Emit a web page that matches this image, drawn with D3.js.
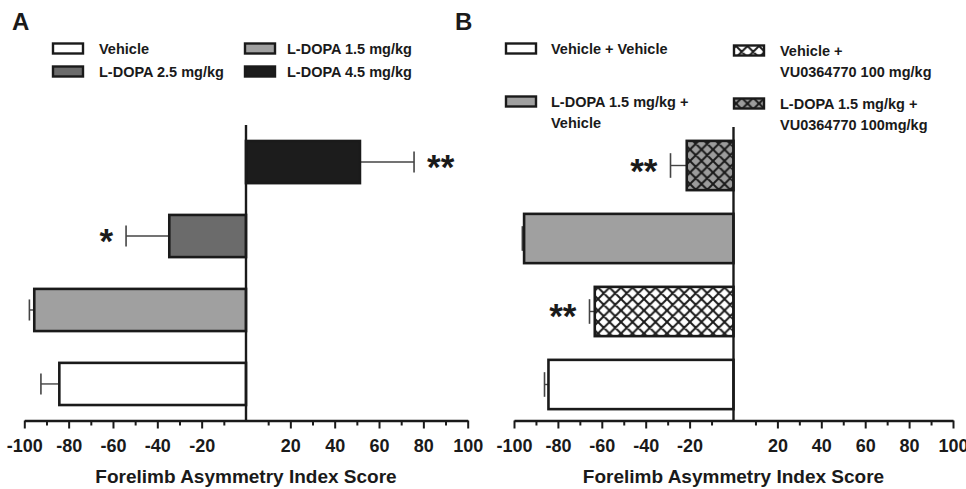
<!DOCTYPE html>
<html>
<head>
<meta charset="utf-8">
<script src="https://cdn.jsdelivr.net/npm/d3@7"></script>
<style>
  body { margin: 0; background: #fff; }
  text { font-family: "Liberation Sans", Arial, sans-serif; fill: #1a1a1a; }
</style>
</head>
<body>
<div id="chart"></div>
<script>
var svgWidth = 966;
var svgHeight = 489;

// panel A, bars listed bottom to top
var catsA = ["Vehicle", "L-DOPA 1.5 mg/kg", "L-DOPA 2.5 mg/kg", "L-DOPA 4.5 mg/kg"];
var valuesA = [-84.2, -95.5, -34.6, 51.4];
var errorsA = [8.3, 2.2, 19.5, 24.4];
var starsA = ["", "", "*", "**"];

// panel B, bars listed bottom to top
var catsB = ["Vehicle + Vehicle", "Vehicle + VU0364770 100 mg/kg", "L-DOPA 1.5 mg/kg + Vehicle", "L-DOPA 1.5 mg/kg + VU0364770 100mg/kg"];
var legendLinesB = [["Vehicle + Vehicle"], ["Vehicle +", "VU0364770 100 mg/kg"], ["L-DOPA 1.5 mg/kg +", "Vehicle"], ["L-DOPA 1.5 mg/kg +", "VU0364770 100mg/kg"]];
var valuesB = [-84.3, -63.2, -95.4, -21.3];
var errorsB = [1.8, 2.4, 0.8, 7.4];
var starsB = ["", "**", "", "**"];

var majorTicks = [-100, -80, -60, -40, -20, 20, 40, 60, 80, 100];
var minorTicks = [-90, -70, -50, -30, -10, 10, 30, 50, 70, 90];
var xTitle = "Forelimb Asymmetry Index Score";

var ink = "#1a1a1a";

var svg = d3.select("#chart")
  .append("svg")
  .attr("width", svgWidth)
  .attr("height", svgHeight);

var defs = svg.append("defs");

function crossPattern(id, bg) {
  var p = defs.append("pattern")
    .attr("id", id)
    .attr("patternUnits", "userSpaceOnUse")
    .attr("width", 11.5)
    .attr("height", 11.5);
  p.append("rect").attr("width", 11.5).attr("height", 11.5).attr("fill", bg);
  p.append("path")
    .attr("d", "M-1,-1 L12.5,12.5 M12.5,-1 L-1,12.5 M-6.75,4.75 L4.75,16.25 M6.75,-4.75 L18.25,6.75 M4.75,-6.75 L-6.75,4.75 M18.25,4.75 L6.75,16.25")
    .attr("stroke", ink)
    .attr("stroke-width", 2);
}
crossPattern("crossWhite", "#ffffff");
crossPattern("crossGray", "#9c9c9c");

var fillsA = ["#ffffff", "#a0a0a0", "#6b6b6b", "#1c1c1c"];
var fillsB = ["#ffffff", "url(#crossWhite)", "#a0a0a0", "url(#crossGray)"];

function drawPanel(opt) {
  var g = svg.append("g");

  var x = d3.scaleLinear().domain([-100, 100]).range(opt.xRange);
  var y = d3.scaleBand()
    .domain(opt.cats)
    .range([opt.yRange[1], opt.yRange[0]])
    .paddingInner(opt.padIn)
    .paddingOuter(opt.padOut);

  var data = opt.cats.map(function(c, i) {
    return {cat: c, v: opt.values[i], e: opt.errors[i], star: opt.stars[i], fill: opt.fills[i]};
  });

  // error bars (one-sided, outward)
  data.forEach(function(d) {
    var s = d.v < 0 ? -1 : 1;
    var cy = y(d.cat) + y.bandwidth() / 2;
    var xe = x(d.v + s * d.e);
    g.append("line")
      .attr("x1", x(d.v)).attr("x2", xe)
      .attr("y1", cy).attr("y2", cy)
      .attr("stroke", "#444").attr("stroke-width", 1.4);
    g.append("line")
      .attr("x1", xe).attr("x2", xe)
      .attr("y1", cy - y.bandwidth() * 0.25).attr("y2", cy + y.bandwidth() * 0.25)
      .attr("stroke", "#444").attr("stroke-width", 1.6);
    if (d.star) {
      g.append("text")
        .attr("x", xe + s * 13)
        .attr("y", cy + 17)
        .attr("text-anchor", s < 0 ? "end" : "start")
        .attr("font-size", "35px")
        .attr("font-weight", "bold")
        .text(d.star);
    }
  });

  g.selectAll("rect.bar").data(data).enter()
    .append("rect")
    .attr("class", "bar")
    .attr("x", d => Math.min(x(0), x(d.v)))
    .attr("y", d => y(d.cat))
    .attr("width", d => Math.abs(x(d.v) - x(0)))
    .attr("height", y.bandwidth())
    .attr("fill", d => d.fill)
    .attr("stroke", ink)
    .attr("stroke-width", 2.6);

  // x axis: major + minor ticks
  var axisY = opt.axisY;
  var major = g.append("g")
    .attr("transform", `translate(0, ${axisY})`)
    .call(d3.axisBottom(x).tickValues(majorTicks).tickSize(8).tickSizeOuter(0).tickPadding(11).tickFormat(d => String(d)));
  major.select(".domain").attr("stroke", ink).attr("stroke-width", 2.4);
  major.selectAll(".tick line").attr("stroke", ink).attr("stroke-width", 2);
  major.selectAll(".tick text")
    .attr("font-family", "Liberation Sans, Arial, sans-serif")
    .attr("font-size", "18px")
    .attr("font-weight", "bold")
    .attr("fill", ink);

  var minor = g.append("g")
    .attr("transform", `translate(0, ${axisY})`)
    .call(d3.axisBottom(x).tickValues(minorTicks).tickSize(5).tickSizeOuter(0).tickFormat(""));
  minor.select(".domain").remove();
  minor.selectAll(".tick line").attr("stroke", ink).attr("stroke-width", 2);

  // vertical zero line
  g.append("line")
    .attr("x1", x(0)).attr("x2", x(0))
    .attr("y1", opt.yTop).attr("y2", axisY)
    .attr("stroke", ink).attr("stroke-width", 2.4);

  g.append("text")
    .attr("x", x(0))
    .attr("y", 483)
    .attr("text-anchor", "middle")
    .attr("font-size", "19px")
    .attr("font-weight", "bold")
    .text(xTitle);

  g.append("text")
    .attr("x", opt.letterX)
    .attr("y", 30)
    .attr("font-size", "24px")
    .attr("font-weight", "bold")
    .text(opt.letter);

  // legend, row-major in two columns
  opt.legend.forEach(function(lines, i) {
    var col = i % 2, row = Math.floor(i / 2);
    var ty = opt.legRows[row] + (opt.colShift ? opt.colShift[col] : 0);
    g.append("rect")
      .attr("x", opt.legSwX[col])
      .attr("y", ty - 5.5)
      .attr("width", 30)
      .attr("height", 10)
      .attr("fill", opt.fills[i])
      .attr("stroke", ink)
      .attr("stroke-width", 2.4);
    lines.forEach(function(t, k) {
      g.append("text")
        .attr("x", opt.legTxX[col])
        .attr("y", ty + k * 21 + 5)
        .attr("font-size", "14.5px")
        .attr("font-weight", "bold")
        .text(t);
    });
  });
}

drawPanel({
  cats: catsA, values: valuesA, errors: errorsA, stars: starsA, fills: fillsA,
  legend: catsA.map(c => [c]),
  xRange: [24.3, 467.7], yRange: [125, 421], padIn: 0.43, padOut: 0.216,
  axisY: 420.5, yTop: 125, letter: "A", letterX: 12,
  legSwX: [53, 245], legTxX: [99, 287], legRows: [49, 72]
});

drawPanel({
  cats: catsB, values: valuesB, errors: errorsB, stars: starsB, fills: fillsB,
  legend: legendLinesB,
  xRange: [514, 953], yRange: [127, 423], padIn: 0.325, padOut: 0.19,
  axisY: 420.5, yTop: 127, letter: "B", letterX: 455,
  legSwX: [506, 734], legTxX: [551, 780], legRows: [49, 102], colShift: [0, 2]
});
</script>
</body>
</html>
